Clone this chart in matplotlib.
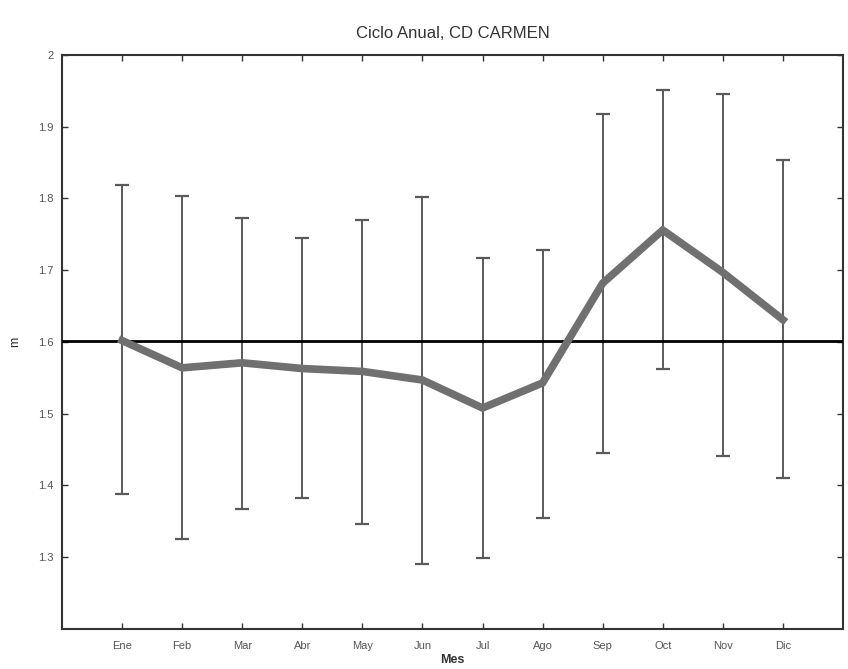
import matplotlib
matplotlib.use("Agg")
import matplotlib.pyplot as plt
import numpy as np

plt.rcParams['font.family'] = ['Liberation Sans', 'DejaVu Sans']

months = ['Ene', 'Feb', 'Mar', 'Abr', 'May', 'Jun', 'Jul', 'Ago', 'Sep', 'Oct', 'Nov', 'Dic']
mean_level = [1.602, 1.564, 1.571, 1.563, 1.559, 1.547, 1.508, 1.543, 1.682, 1.756, 1.697, 1.631]
upper = [1.819, 1.804, 1.773, 1.745, 1.770, 1.802, 1.717, 1.728, 1.918, 1.951, 1.946, 1.854]
lower = [1.388, 1.325, 1.367, 1.382, 1.347, 1.290, 1.299, 1.355, 1.445, 1.563, 1.441, 1.411]
ref_level = 1.602
yticks = [1.3, 1.4, 1.5, 1.6, 1.7, 1.8, 1.9, 2.0]
ytick_labels = ['1.3', '1.4', '1.5', '1.6', '1.7', '1.8', '1.9', '2']

fig = plt.figure(figsize=(8.48, 6.69), dpi=100)
ax = fig.add_axes([0.0731, 0.0598, 0.921, 0.858])

x = np.arange(1, len(months) + 1)
m = np.array(mean_level)
yerr = np.vstack([m - np.array(lower), np.array(upper) - m])

ax.errorbar(x, m, yerr=yerr, fmt='none', ecolor='#5a5a5a', elinewidth=1.4,
            capsize=5, capthick=1.6, zorder=2)
ax.axhline(ref_level, color='black', linewidth=2, zorder=3)
ax.plot(x, m, color='#707070', linewidth=5.5, solid_joinstyle='miter', zorder=4)

ax.set_xlim(0, 13)
ax.set_ylim(1.2, 2.0)
ax.set_xticks(x)
ax.set_xticklabels(months)
ax.set_yticks(yticks)
ax.set_yticklabels(ytick_labels)
ax.tick_params(direction='in', top=True, right=True, length=4, width=1,
               labelsize=8, labelcolor='#555555', color='#333333')
ax.tick_params(axis='x', pad=9)
ax.tick_params(axis='y', pad=6)
for s in ax.spines.values():
    s.set_linewidth(1.5)
    s.set_color('#333333')

ax.set_title('Ciclo Anual, CD CARMEN', fontsize=12, color='#333333', pad=12)
ax.set_xlabel('Mes', fontsize=9, fontweight='bold', color='#333333', labelpad=2)
ax.set_ylabel('m', fontsize=9, color='#333333', labelpad=12)

fig.savefig('out.png', dpi=100)
